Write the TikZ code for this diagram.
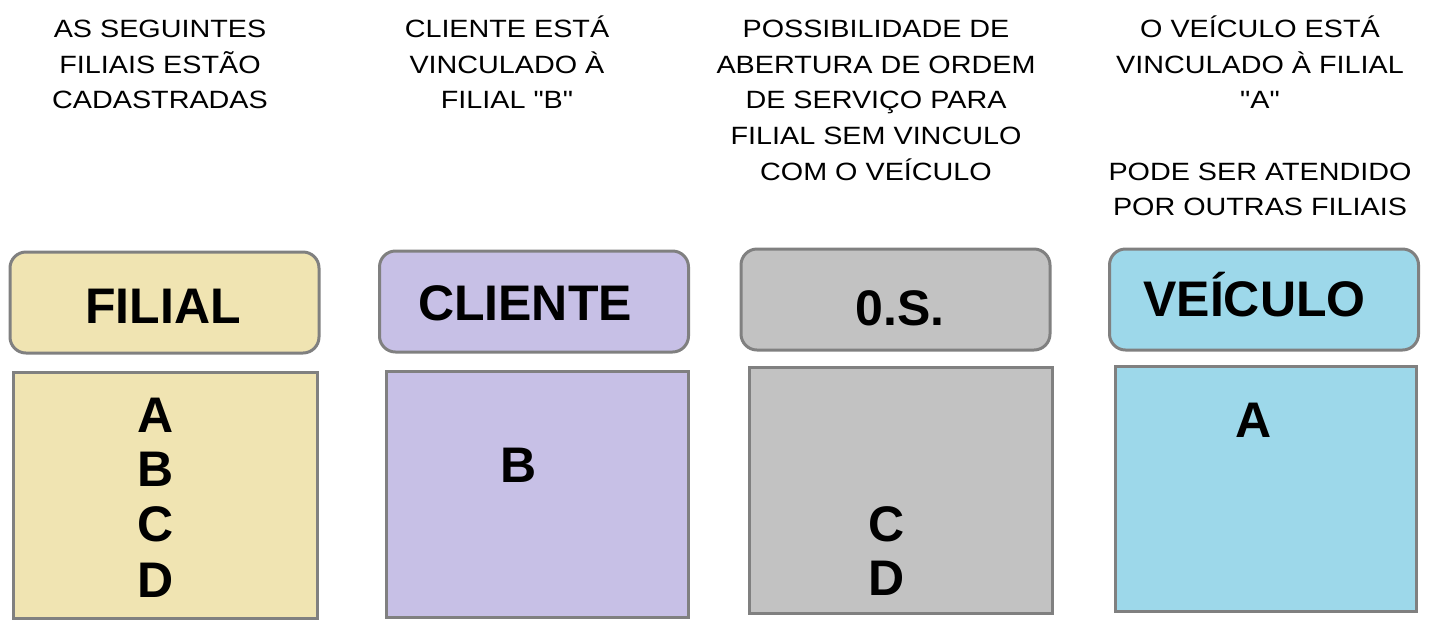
\documentclass[tikz,border=0pt]{standalone}
\usepackage{fontspec}
\setmainfont{Liberation Sans}[Ligatures=TeXOff]
\newfontfamily\notafont{Liberation Sans}[Ligatures=TeXOff,FakeStretch=1.15]
\definecolor{corfilial}{RGB}{240,228,178}
\definecolor{corcliente}{RGB}{199,192,230}
\definecolor{coros}{RGB}{194,194,194}
\definecolor{corveiculo}{RGB}{157,216,234}
\definecolor{borda}{RGB}{128,128,128}
\tikzset{
  cabeca/.style={draw=borda,line width=1.5pt,rounded corners=8pt,minimum width=154.5pt,minimum height=50.5pt,inner sep=0pt},
  corpo/.style={draw=borda,line width=1.5pt,minimum width=152pt,minimum height=123pt,inner sep=0pt},
  titulo/.style={font=\bfseries\fontsize{25}{30}\selectfont,anchor=base,inner sep=0pt},
  letra/.style={font=\bfseries\fontsize{25}{30}\selectfont,anchor=base,inner sep=0pt},
  nota/.style={font=\notafont\fontsize{12.5}{17.85}\selectfont,align=center,anchor=base,inner sep=0pt}
}
\begin{document}
\begin{tikzpicture}[x=0.5pt,y=-0.5pt]
\useasboundingbox (0,0) rectangle (1434,634);
% textos de cima (base = ultima linha)
\node[nota] (n1) at (160,108.7) {AS SEGUINTES\\ FILIAIS ESTÃO\\CADASTRADAS};
\node[nota] (n2) at (507,108.7) {CLIENTE ESTÁ\\VINCULADO À\\FILIAL "B"};
\node[nota] (n3) at (876,180.1) {POSSIBILIDADE DE\\ABERTURA DE ORDEM\\DE SERVIÇO PARA\\FILIAL SEM VINCULO\\COM O VEÍCULO};
\node[nota] (n4) at (1260,215.8) {O VEÍCULO ESTÁ\\VINCULADO À FILIAL\\"A"\\ \\PODE SER ATENDIDO\\POR OUTRAS FILIAIS};
% cabecalhos
\node[cabeca,fill=corfilial] (filial) at (164.5,302.5) {};
\node[cabeca,fill=corcliente] (cliente) at (534,301.5) {};
\node[cabeca,fill=coros] (os) at (895.5,299.5) {};
\node[cabeca,fill=corveiculo] (veiculo) at (1264,299.5) {};
\node[titulo] (tfilial) at (163,323) {FILIAL};
\node[titulo] (tcliente) at (525,320) {CLIENTE};
\node[titulo] (tos) at (900,325) {0.S.};
\node[titulo] (tveiculo) at (1254.5,316) {VEÍCULO};
% caixas
\node[corpo,fill=corfilial] (cfilial) at (165,495) {};
\node[corpo,fill=corcliente,minimum width=151pt] (ccliente) at (537,494) {};
\node[corpo,fill=coros,minimum width=151.5pt] (cos) at (900.5,490) {};
\node[corpo,fill=corveiculo,minimum width=150.5pt,minimum height=122.5pt] (cveiculo) at (1265.5,488.5) {};
% letras
\node[letra] (fa) at (156,432) {A};
\node[letra] (fb) at (156,486) {B};
\node[letra] (fc) at (156,541) {C};
\node[letra] (fd) at (156,597) {D};
\node[letra] (cb) at (519,482) {B};
\node[letra] (oc) at (887,541) {C};
\node[letra] (od) at (887,595) {D};
\node[letra] (va) at (1254,437) {A};
\end{tikzpicture}
\end{document}
